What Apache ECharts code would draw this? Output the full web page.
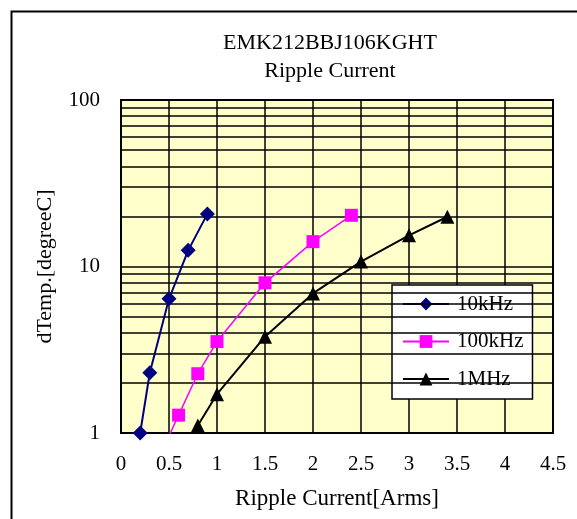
<!DOCTYPE html>
<html>
<head>
<meta charset="utf-8">
<script src="https://cdn.jsdelivr.net/npm/echarts@6/dist/echarts.min.js"></script>
<style>html,body{margin:0;padding:0;background:#fff}#c{width:577px;height:519px}</style>
</head>
<body>
<div id="c"></div>
<script>
// Data
var x10k = [0.2, 0.3, 0.5, 0.7, 0.9];
var y10k = [1.0, 2.3, 6.4, 12.5, 20.7];
var x100k = [0.4, 0.6, 0.8, 1.0, 1.5, 2.0, 2.4];
var y100k = [0.72, 1.28, 2.27, 3.54, 7.98, 14.1, 20.3];
var x1M = [0.6, 0.8, 1.0, 1.5, 2.0, 2.5, 3.0, 3.4];
var y1M = [0.72, 1.11, 1.71, 3.79, 6.89, 10.7, 15.4, 19.9];
var seriesNames = ['10kHz', '100kHz', '1MHz'];
var minorGridValues = [2, 3, 4, 5, 6, 7, 8, 9, 20, 30, 40, 50, 60, 70, 80, 90];
var titleLines = ['EMK212BBJ106KGHT', 'Ripple Current'];

function pairs(xs, ys) { return xs.map(function (x, i) { return [x, ys[i]]; }); }

var FONT = '"Liberation Serif", "Times New Roman", serif';
var chart = echarts.init(document.getElementById('c'), null, {renderer: 'canvas'});
chart.setOption({
  animation: false,
  backgroundColor: '#ffffff',
  textStyle: {fontFamily: FONT},
  graphic: [{
    type: 'rect', shape: {x: 11.5, y: 11.5, width: 700, height: 700},
    style: {fill: null, stroke: '#000', lineWidth: 2}, silent: true, z: -10
  }],
  title: [
    {text: titleLines[0], left: 330, top: 32, textAlign: 'center', padding: 0,
     textStyle: {fontFamily: FONT, fontSize: 22, fontWeight: 'normal', color: '#000'}},
    {text: titleLines[1], left: 330, top: 60, textAlign: 'center', padding: 0,
     textStyle: {fontFamily: FONT, fontSize: 22, fontWeight: 'normal', color: '#000'}}
  ],
  grid: {left: 121, top: 100, width: 432, height: 333, show: true,
         backgroundColor: '#FFFFCC', borderColor: '#000', borderWidth: 2},
  legend: {
    data: seriesNames, orient: 'vertical', left: 392, top: 285,
    backgroundColor: '#fff', borderColor: '#000', borderWidth: 1.5,
    padding: [7, 9, 8, 10], itemWidth: 46, itemHeight: 16, itemGap: 13.5,
    textStyle: {fontFamily: FONT, fontSize: 21, color: '#000', lineHeight: 24, padding: [0, 0, 0, 3]}
  },
  xAxis: {
    type: 'value', min: 0, max: 4.5, interval: 0.5,
    name: 'Ripple Current[Arms]', nameLocation: 'middle', nameGap: 54,
    nameTextStyle: {fontFamily: FONT, fontSize: 23, color: '#000'},
    axisLine: {show: true, lineStyle: {color: '#000', width: 2}},
    axisTick: {show: false},
    axisLabel: {fontFamily: FONT, fontSize: 21, color: '#000', margin: 21},
    splitLine: {show: true, lineStyle: {color: '#000', width: 1.5}}
  },
  yAxis: {
    type: 'log', logBase: 10, min: 1, max: 100,
    name: 'dTemp.[degreeC]', nameLocation: 'middle', nameGap: 65,
    nameTextStyle: {fontFamily: FONT, fontSize: 22, color: '#000'},
    axisLine: {show: true, lineStyle: {color: '#000', width: 2}},
    axisTick: {show: false},
    axisLabel: {fontFamily: FONT, fontSize: 21, color: '#000', margin: 21},
    splitLine: {show: true, lineStyle: {color: '#000', width: 1.5}}
  },
  series: [
    {
      name: 'grid-minor', type: 'line', data: [], z: 1, silent: true,
      markLine: {
        silent: true, symbol: 'none', animation: false,
        label: {show: false},
        lineStyle: {color: '#000', width: 1.5, type: 'solid'},
        data: minorGridValues.map(function (v) { return {yAxis: v}; })
      }
    },
    {
      name: seriesNames[0], type: 'line', data: pairs(x10k, y10k), z: 5,
      symbol: 'diamond', symbolSize: 15, clip: true,
      lineStyle: {color: '#000080', width: 2}, itemStyle: {color: '#000080'}
    },
    {
      name: seriesNames[1], type: 'line', data: pairs(x100k, y100k), z: 5,
      symbol: 'rect', symbolSize: 13, clip: true,
      lineStyle: {color: '#FF00FF', width: 1.5}, itemStyle: {color: '#FF00FF'}
    },
    {
      name: seriesNames[2], type: 'line', data: pairs(x1M, y1M), z: 5,
      symbol: 'triangle', symbolSize: 14, clip: true,
      lineStyle: {color: '#000', width: 2}, itemStyle: {color: '#000'}
    }
  ]
});
</script>
</body>
</html>
